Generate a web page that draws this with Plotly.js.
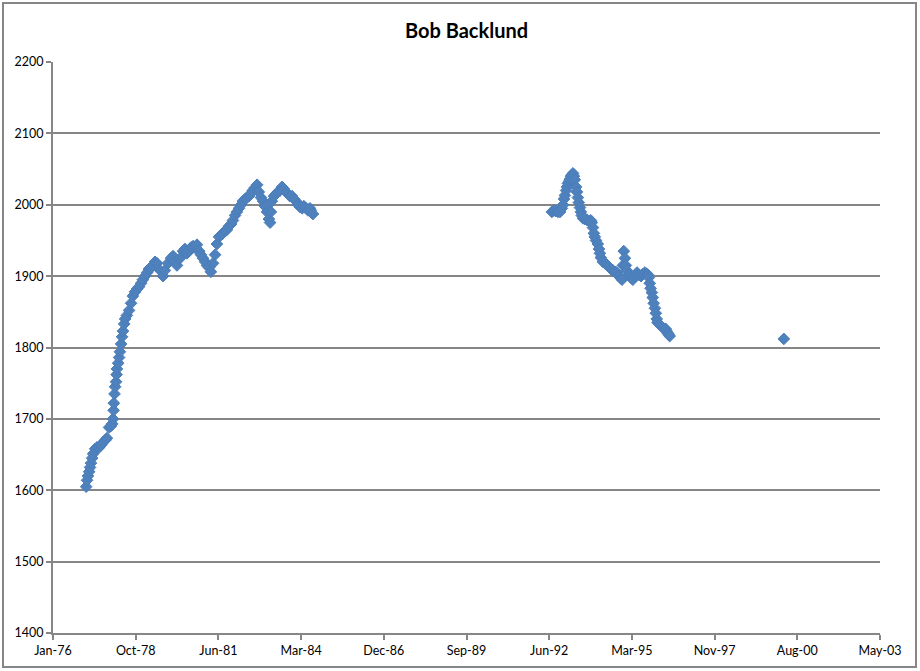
<!DOCTYPE html>
<html>
<head>
<meta charset="utf-8">
<script src="https://cdn.plot.ly/plotly-3.0.1.min.js"></script>
<style>html,body{margin:0;padding:0;background:#fff;}#chart{width:920px;height:671px;}</style>
</head>
<body>
<div id="chart"></div>
<script>
// Decimal-year positions and ratings
const years1 = [1977.11,1977.14,1977.17,1977.21,1977.24,1977.27,1977.31,1977.34,1977.41,1977.47,1977.54,1977.60,1977.67,1977.74,1977.80,1977.87,1977.93,1977.97,1978.00,1978.02,1978.03,1978.05,1978.07,1978.10,1978.12,1978.13,1978.17,1978.20,1978.23,1978.27,1978.30,1978.33,1978.37,1978.40,1978.46,1978.53,1978.60,1978.66,1978.73,1978.80,1978.86,1978.93,1978.99,1979.06,1979.13,1979.19,1979.26,1979.33,1979.39,1979.46,1979.56,1979.66,1979.72,1979.82,1979.92,1979.99,1980.05,1980.12,1980.22,1980.32,1980.38,1980.45,1980.52,1980.58,1980.65,1980.72,1980.78,1980.85,1980.91,1980.98,1981.05,1981.11,1981.18,1981.24,1981.31,1981.38,1981.44,1981.51,1981.58,1981.64,1981.71,1981.77,1981.84,1981.91,1981.97,1982.04,1982.10,1982.17,1982.24,1982.30,1982.37,1982.44,1982.50,1982.57,1982.63,1982.70,1982.77,1982.83,1982.90,1982.97,1983.03,1983.10,1983.16,1983.20,1983.23,1983.26,1983.33,1983.40,1983.46,1983.53,1983.60,1983.66,1983.73,1983.79,1983.86,1983.93,1983.99,1984.06,1984.13,1984.19,1984.26,1984.32,1984.39,1984.46,1984.52,1984.55,1984.62];
const ratings1 = [1605,1614,1620,1626,1632,1638,1645,1651,1658,1660,1660,1663,1667,1670,1673,1688,1690,1693,1700,1712,1722,1735,1745,1752,1762,1770,1778,1786,1794,1805,1815,1823,1833,1840,1845,1852,1862,1872,1878,1882,1885,1890,1895,1900,1905,1910,1912,1915,1920,1918,1908,1900,1908,1918,1925,1928,1920,1915,1925,1935,1938,1932,1935,1940,1942,1940,1944,1935,1930,1925,1920,1915,1912,1906,1918,1930,1945,1955,1958,1960,1963,1965,1970,1973,1978,1985,1990,1995,2000,2005,2008,2010,2012,2016,2020,2024,2028,2018,2010,2005,1998,1990,1980,1975,1990,2005,2012,2015,2018,2020,2025,2022,2018,2015,2012,2012,2008,2005,2000,1997,1995,1998,1995,1992,1995,1992,1987];
const years2 = [1992.53,1992.60,1992.66,1992.73,1992.80,1992.86,1992.90,1992.93,1992.96,1993.00,1993.03,1993.06,1993.10,1993.13,1993.16,1993.19,1993.23,1993.26,1993.29,1993.33,1993.36,1993.39,1993.42,1993.46,1993.49,1993.52,1993.56,1993.62,1993.69,1993.76,1993.82,1993.85,1993.89,1993.92,1993.95,1993.99,1994.05,1994.09,1994.12,1994.15,1994.22,1994.29,1994.35,1994.42,1994.48,1994.55,1994.62,1994.68,1994.75,1994.82,1994.85,1994.88,1994.91,1994.95,1994.98,1995.01,1995.08,1995.15,1995.21,1995.28,1995.35,1995.41,1995.48,1995.54,1995.61,1995.67,1995.71,1995.74,1995.77,1995.80,1995.84,1995.87,1995.90,1995.94,1995.97,1996.00,1996.03,1996.10,1996.17,1996.23,1996.30,1996.33,1996.37,1996.40,1996.43,2000.21];
const ratings2 = [1990,1992,1991,1990,1990,1995,2000,2008,2013,2020,2025,2030,2033,2036,2040,2042,2044,2040,2035,2025,2018,2010,2003,1996,1990,1985,1981,1980,1979,1977,1978,1975,1968,1960,1955,1950,1945,1938,1932,1926,1920,1918,1916,1913,1910,1908,1906,1905,1900,1897,1895,1915,1935,1925,1915,1908,1902,1898,1895,1900,1905,1902,1900,1903,1905,1903,1902,1898,1890,1883,1877,1870,1862,1855,1848,1840,1835,1832,1829,1827,1826,1823,1820,1818,1816,1812];
const tickLabels = ["Jan-76","Oct-78","Jun-81","Mar-84","Dec-86","Sep-89","Jun-92","Mar-95","Nov-97","Aug-00","May-03"];
const chartTitle = "Bob Backlund";

function yearToDate(y){
  const yr = Math.floor(y);
  const start = Date.UTC(yr,0,1), end = Date.UTC(yr+1,0,1);
  return new Date(start + (y-yr)*(end-start)).toISOString().slice(0,10);
}
const xs = years1.concat(years2).map(yearToDate);
const ys = ratings1.concat(ratings2);
const axisStart = Date.UTC(1976,0,6);
const tickVals = tickLabels.map((_,k)=>new Date(axisStart + k*1000*864e5).toISOString().slice(0,10));

const trace = {
  x: xs, y: ys, type: 'scatter', mode: 'markers',
  marker: {symbol: 'diamond', size: 9, color: '#4F81BD', line: {color: '#4A7EBB', width: 1}},
  hoverinfo: 'x+y'
};
const W=920,H=671,L=53,R=40,T=62,B=38;
const pw=W-L-R, ph=H-T-B;
const layout = {
  width: W, height: H,
  margin: {l: L, r: R, t: T, b: B, pad: 0},
  paper_bgcolor: '#fff', plot_bgcolor: '#fff',
  showlegend: false,
  font: {family: 'Lato, "Open Sans", sans-serif', size: 12, color: '#000'},
  title: {text: '<b>' + chartTitle + '</b>', x: 0.5, xref: 'paper', y: 1 - 31/H, yanchor: 'middle', font: {size: 20, family: 'Lato, "Open Sans", sans-serif', color: '#000'}},
  xaxis: {
    type: 'date', range: [tickVals[0], tickVals[tickVals.length-1]],
    tickmode: 'array', tickvals: tickVals, ticktext: tickLabels,
    showgrid: false, zeroline: false,
    showline: true, linecolor: '#868686', linewidth: 2,
    ticks: 'outside', ticklen: 5, tickcolor: '#868686', tickwidth: 2,
    tickfont: {size: 12.5}, fixedrange: true
  },
  yaxis: {
    range: [1400, 2200], dtick: 100, tick0: 1400,
    showgrid: true, gridcolor: '#868686', gridwidth: 2,
    zeroline: false, showline: true, linecolor: '#868686', linewidth: 2,
    ticks: 'outside', ticklen: 5, tickcolor: '#868686', tickwidth: 2,
    tickfont: {size: 12.5}, fixedrange: true
  },
  shapes: [{
    type: 'rect', xref: 'paper', yref: 'paper',
    x0: (3-L)/pw, x1: (916-L)/pw, y0: (H-B-667)/ph, y1: (H-B-3)/ph,
    line: {color: '#868686', width: 2}, fillcolor: 'rgba(0,0,0,0)', layer: 'below'
  }]
};
Plotly.newPlot('chart', [trace], layout, {displayModeBar: false, staticPlot: true});
</script>
</body>
</html>
